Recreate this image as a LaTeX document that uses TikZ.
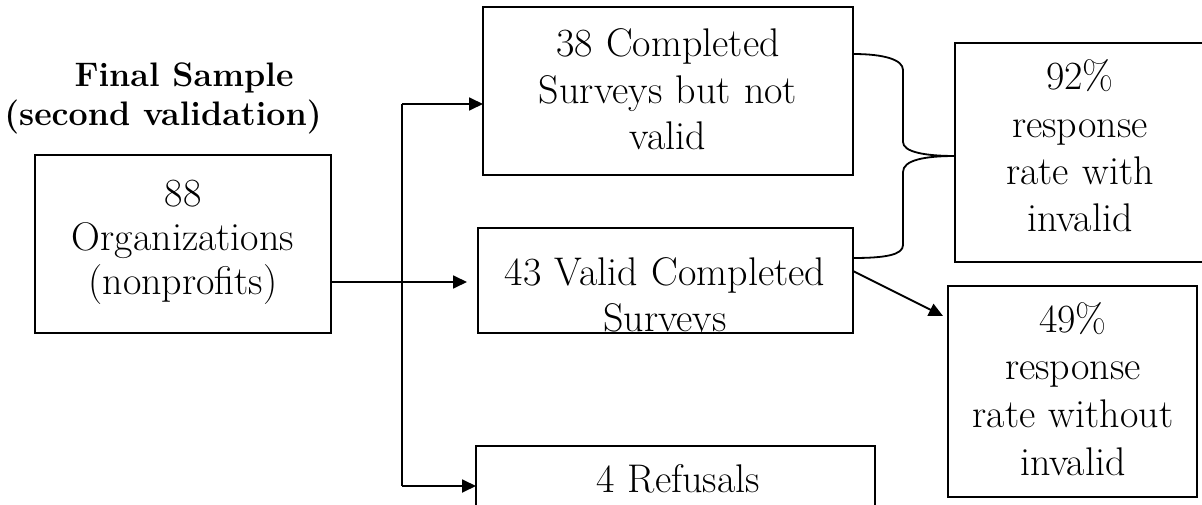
\documentclass[tikz,border=0pt]{standalone}
\usetikzlibrary{arrows.meta,calc,fit}
\begin{document}
\begin{tikzpicture}[x=1pt,y=-1pt,
  box/.style={draw=black, line width=2pt, inner sep=0pt, outer sep=0pt},
  conn/.style={draw=black, line width=1.8pt},
  arr/.style={conn, -{Triangle[length=14pt,width=13pt]}},
  txt/.style={anchor=base, inner sep=0pt, text width=360pt, align=center, font=\fontsize{40}{#1}\selectfont},
  ttl/.style={anchor=base, inner sep=0pt, font=\fontsize{34}{39}\selectfont\bfseries}]
\useasboundingbox (0,0) rectangle (1202,505);
\path[clip] (0,0) rectangle (1202,505);
\fill[white] (0,0) rectangle (1202,505);

% boxes
\node[box, fit={(35,155) (331,333)}] (org) {};
\node[box, fit={(483,7) (853,175)}] (s38) {};
\node[box, fit={(478,228) (853,333)}] (s43) {};
\node[box, fit={(476,446) (875,526)}] (ref) {};
\node[box, fit={(955,43) (1203,262)}] (r92) {};
\node[box, fit={(948,286) (1197,497)}] (r49) {};

% texts
\node[ttl] (t1) at (184,87) {Final Sample};
\node[ttl] (t2) at (163,126) {(second validation)};
\node[txt=44] (orgt) at (183,207) {88\\Organizations\\(nonprofits)};
\node[txt=46.5] (s38t) at (668,57) {38 Completed\\Surveys but not\\valid};
\begin{scope}
  \clip (479,229) rectangle (852,332);
  \node[txt=46] (s43t) at (665,285) {43 Valid Completed\\Surveys};
\end{scope}
\node[txt=46] (reft) at (678,492) {4 Refusals};
\node[txt=47.3] (r92t) at (1080,90) {92\%\\response\\rate with\\invalid};
\node[txt=47.7] (r49t) at (1073,332) {49\%\\response\\rate without\\invalid};

% connectors
\coordinate (jt) at (402,104);
\coordinate (jm) at (402,282);
\coordinate (jb) at (402,486);
\draw[arr, shorten >=11pt] (org.east |- jm) -- (jm -| s43.west);
\draw[conn] (jt) -- (jb);
\draw[arr] (jt) -- (jt -| s38.west);
\draw[arr] (jb) -- (jb -| ref.west);

% brace
\coordinate (ba) at ($(s38.north east)+(0,47)$);
\coordinate (bb) at ($(s43.north east)+(0,30)$);
\coordinate (bm) at ($(r92.north west)+(0,113)$);
\draw[conn] (ba) .. controls ($(ba)+(32,0)$) and ($(ba)+(50,6)$) .. ($(ba)+(50,16)$)
  -- ($(bm)+(-52,-14)$) .. controls ($(bm)+(-52,-4)$) and ($(bm)+(-30,0)$) .. (bm);
\draw[conn] (bm) .. controls ($(bm)+(-30,0)$) and ($(bm)+(-52,4)$) .. ($(bm)+(-52,16)$)
  -- ($(bb)+(50,-13)$) .. controls ($(bb)+(50,-3)$) and ($(bb)+(32,0)$) .. (bb);

% diagonal arrow
\draw[arr] ($(s43.east)+(0,-9.5)$) -- ($(r49.north west)+(-5,30)$);
\end{tikzpicture}
\end{document}
